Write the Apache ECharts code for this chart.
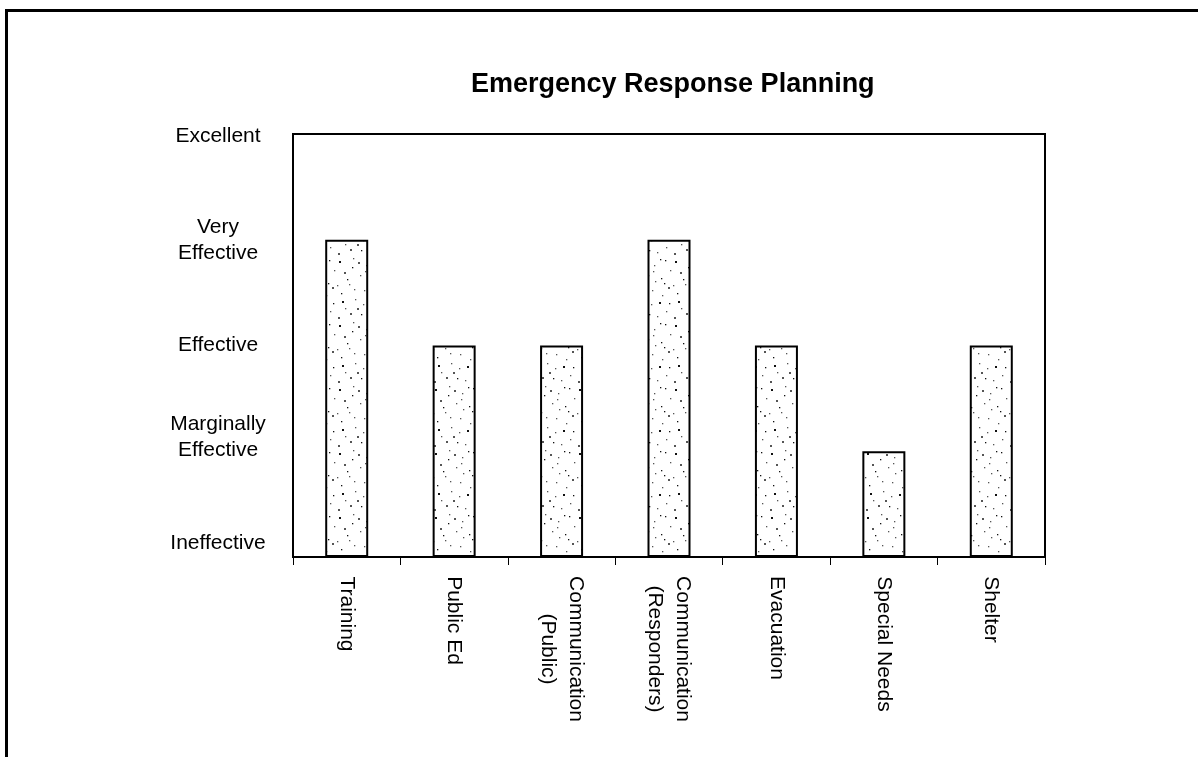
<!DOCTYPE html>
<html><head><meta charset="utf-8">
<script src="https://cdn.jsdelivr.net/npm/echarts@6/dist/echarts.min.js"></script>
<style>
html,body{margin:0;padding:0;background:#fff;overflow:hidden}
#frame{position:absolute;left:5px;top:9px;width:1400px;height:1000px;border-top:3px solid #000;border-left:3px solid #000;}
#chart{position:absolute;left:0;top:0;width:1198px;height:757px;}
</style></head><body>
<div id="frame"></div>
<div id="chart"></div>
<script>
// ---- data ----
const titleText = 'Emergency Response Planning';
const categories = ['Training', 'Public Ed', 'Communication\n(Public)', 'Communication\n(Responders)', 'Evacuation', 'Special Needs', 'Shelter'];
const values = [3, 2, 2, 3, 2, 1, 2];
const yTickLabels = ['Ineffective', 'Marginally\nEffective', 'Effective', 'Very\nEffective', 'Excellent'];

// ---- styling ----
const FONT = 'Arial, "Liberation Sans", sans-serif';
const LABEL_SIZE = 21;

function makeStipple() {
  const c = document.createElement('canvas');
  c.width = 48; c.height = 64;
  const g = c.getContext('2d');
  g.fillStyle = '#fff'; g.fillRect(0, 0, 48, 64);
  const dots = [[3,5],[17,2],[30,9],[41,4],[8,16],[24,19],[37,22],[13,28],[44,31],[5,37],[28,34],[19,43],[35,46],[9,52],[42,55],[25,58],[2,61],[31,25],[16,11],[38,39],
                [22,6],[11,23],[46,14],[27,48],[6,45],[33,60],[18,33],[40,27],[14,57],[29,15],[45,47],[1,29],[21,52],[36,3]];
  dots.forEach(function (d, i) {
    g.fillStyle = (i % 3 === 0) ? '#111' : '#555';
    const s = (i % 4 === 0) ? 2 : 1.3;
    g.fillRect(d[0], d[1], s, s);
  });
  return c;
}

function yLabelFormatter(value) {
  const txt = yTickLabels[value];
  if (txt === undefined) return '';
  const lines = txt.split('\n').map(function (l) { return '{t|' + l + '}'; });
  // lower two labels sit a little higher above their tick position
  if (value <= 1) lines.push('{gap| }');
  if (value === 4) lines.unshift('{gap2| }');
  return lines.join('\n');
}

// multi-line category labels: every line centred within the widest line
const measureCtx = document.createElement('canvas').getContext('2d');
measureCtx.font = LABEL_SIZE + 'px ' + FONT;
const xRich = {};
categories.forEach(function (cat, i) {
  const w = Math.max.apply(null, cat.split('\n').map(function (l) { return measureCtx.measureText(l).width; }));
  xRich['c' + i] = { width: Math.ceil(w), align: 'center', fontFamily: FONT, fontSize: LABEL_SIZE, lineHeight: 28, color: '#000' };
});
function xLabelFormatter(value, index) {
  return value.split('\n').map(function (l) { return '{c' + index + '|' + l + '}'; }).join('\n');
}

const chart = echarts.init(document.getElementById('chart'), null, { renderer: 'canvas' });
chart.setOption({
  backgroundColor: 'transparent',
  animation: false,
  title: {
    text: titleText,
    left: 466,
    top: 66,
    textStyle: { fontFamily: FONT, fontSize: 27, fontWeight: 'bold', color: '#000' }
  },
  grid: {
    left: 293, right: 153, top: 134, bottom: 200,
    show: true, borderColor: '#000', borderWidth: 2, backgroundColor: 'transparent'
  },
  xAxis: {
    type: 'category',
    data: categories,
    boundaryGap: true,
    axisLine: { lineStyle: { color: '#000', width: 2 } },
    axisTick: { show: true, length: 8, lineStyle: { color: '#000', width: 1 } },
    axisLabel: {
      interval: 0,
      rotate: -90,
      margin: 19,
      color: '#000',
      fontFamily: FONT,
      fontSize: LABEL_SIZE,
      lineHeight: 28,
      formatter: xLabelFormatter,
      rich: xRich
    },
    splitLine: { show: false }
  },
  yAxis: {
    type: 'value',
    min: 0, max: 4, interval: 1,
    axisLine: { show: true, lineStyle: { color: '#000', width: 2 } },
    axisTick: { show: false },
    splitLine: { show: false },
    axisLabel: {
      margin: 75,
      align: 'center',
      color: '#000',
      fontFamily: FONT,
      fontSize: LABEL_SIZE,
      formatter: yLabelFormatter,
      rich: {
        t: { align: 'center', fontFamily: FONT, fontSize: LABEL_SIZE, lineHeight: 26, color: '#000' },
        gap: { fontSize: 1, lineHeight: 28 },
        gap2: { fontSize: 1, lineHeight: 4 }
      }
    }
  },
  series: [{
    type: 'bar',
    data: values,
    barWidth: 43,
    itemStyle: {
      color: { image: makeStipple(), repeat: 'repeat' },
      borderColor: '#000',
      borderWidth: 2
    }
  }]
});
</script>
</body></html>
